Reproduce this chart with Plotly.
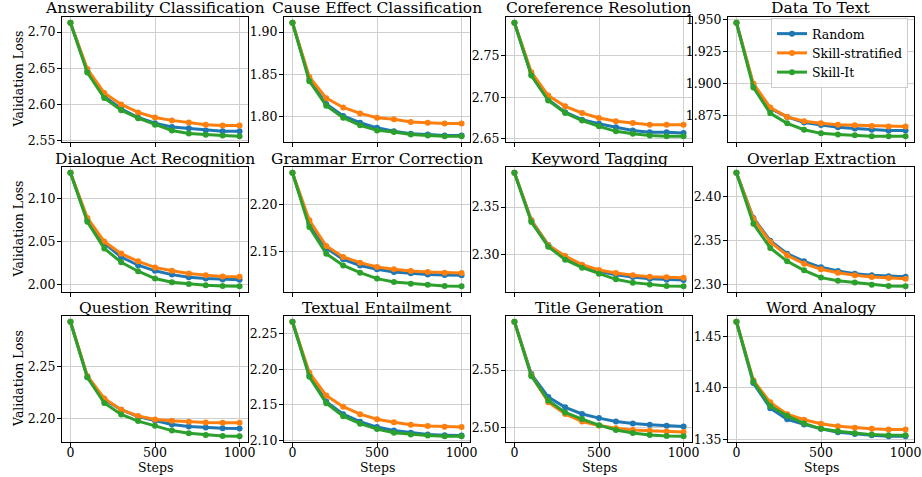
import plotly.graph_objects as go

steps = [0, 100, 200, 300, 400, 500, 600, 700, 800, 900, 1000]
series_names = ["Random", "Skill-stratified", "Skill-It"]
series_colors = ["#1f77b4", "#ff7f0e", "#2ca02c"]

tasks = ["Answerability Classification", "Cause Effect Classification", "Coreference Resolution", "Data To Text",
         "Dialogue Act Recognition", "Grammar Error Correction", "Keyword Tagging", "Overlap Extraction",
         "Question Rewriting", "Textual Entailment", "Title Generation", "Word Analogy"]

ans_random = [2.713, 2.646, 2.611, 2.594, 2.582, 2.574, 2.569, 2.567, 2.564, 2.563, 2.563]
ans_strat = [2.713, 2.649, 2.616, 2.600, 2.589, 2.582, 2.578, 2.575, 2.572, 2.571, 2.571]
ans_skillit = [2.713, 2.644, 2.609, 2.592, 2.581, 2.572, 2.564, 2.560, 2.558, 2.557, 2.556]

cause_random = [1.911, 1.844, 1.815, 1.801, 1.793, 1.787, 1.783, 1.780, 1.779, 1.778, 1.778]
cause_strat = [1.911, 1.847, 1.822, 1.811, 1.804, 1.799, 1.797, 1.794, 1.793, 1.792, 1.792]
cause_skillit = [1.911, 1.842, 1.813, 1.799, 1.790, 1.784, 1.782, 1.779, 1.778, 1.777, 1.777]

coref_random = [2.7895, 2.727, 2.697, 2.682, 2.673, 2.668, 2.664, 2.660, 2.658, 2.658, 2.657]
coref_strat = [2.7895, 2.730, 2.702, 2.689, 2.681, 2.675, 2.671, 2.669, 2.667, 2.667, 2.667]
coref_skillit = [2.7895, 2.726, 2.696, 2.681, 2.672, 2.665, 2.659, 2.656, 2.654, 2.653, 2.653]

d2t_random = [1.9474, 1.8988, 1.8806, 1.874, 1.8697, 1.8677, 1.866, 1.865, 1.864, 1.8635, 1.8635]
d2t_strat = [1.9474, 1.900, 1.8813, 1.874, 1.8706, 1.869, 1.868, 1.8675, 1.867, 1.8665, 1.8665]
d2t_skillit = [1.9474, 1.897, 1.8768, 1.869, 1.864, 1.8612, 1.8604, 1.8597, 1.859, 1.8589, 1.8589]

dar_random = [2.130, 2.075, 2.048, 2.032, 2.0225, 2.016, 2.0116, 2.0085, 2.007, 2.006, 2.0055]
dar_strat = [2.130, 2.0775, 2.050, 2.036, 2.027, 2.020, 2.016, 2.0128, 2.011, 2.0095, 2.009]
dar_skillit = [2.130, 2.073, 2.042, 2.026, 2.0155, 2.007, 2.0027, 2.0008, 1.9992, 1.9985, 1.998]

gec_random = [2.2337, 2.1794, 2.1535, 2.1415, 2.135, 2.1309, 2.128, 2.1266, 2.1255, 2.1248, 2.1245]
gec_strat = [2.2337, 2.183, 2.1557, 2.144, 2.138, 2.1333, 2.131, 2.129, 2.128, 2.1273, 2.127]
gec_skillit = [2.2337, 2.1759, 2.1475, 2.135, 2.1273, 2.121, 2.1174, 2.1156, 2.1145, 2.1131, 2.1128]

kw_random = [2.3863, 2.336, 2.310, 2.297, 2.288, 2.282, 2.2785, 2.276, 2.2743, 2.2732, 2.2729]
kw_strat = [2.3863, 2.3359, 2.3095, 2.2982, 2.2891, 2.2835, 2.2803, 2.2778, 2.2764, 2.2757, 2.2753]
kw_skillit = [2.3863, 2.3342, 2.3081, 2.2944, 2.2859, 2.2796, 2.2736, 2.2701, 2.268, 2.2665, 2.2662]

ovl_random = [2.4273, 2.3758, 2.350, 2.3352, 2.3265, 2.3197, 2.3155, 2.3125, 2.3106, 2.3095, 2.3091]
ovl_strat = [2.4273, 2.375, 2.3485, 2.3333, 2.3239, 2.3174, 2.3136, 2.3106, 2.3087, 2.3076, 2.3068]
ovl_skillit = [2.4273, 2.3693, 2.3417, 2.3265, 2.3163, 2.308, 2.3045, 2.3023, 2.300, 2.2985, 2.2981]

qr_random = [2.2932, 2.2396, 2.2182, 2.2084, 2.2019, 2.1981, 2.1942, 2.1922, 2.1912, 2.1906, 2.1903]
qr_strat = [2.2932, 2.2409, 2.2192, 2.2084, 2.2023, 2.199, 2.1977, 2.1968, 2.1961, 2.1958, 2.1958]
qr_skillit = [2.2932, 2.2396, 2.2149, 2.2039, 2.1974, 2.1929, 2.1883, 2.1857, 2.1841, 2.1831, 2.1828]

te_random = [2.2673, 2.1915, 2.1546, 2.1369, 2.1263, 2.1187, 2.1139, 2.1105, 2.1081, 2.1072, 2.1067]
te_strat = [2.2673, 2.1953, 2.1632, 2.1474, 2.1369, 2.1297, 2.1254, 2.122, 2.1201, 2.1192, 2.1187]
te_skillit = [2.2673, 2.1896, 2.1522, 2.134, 2.1235, 2.1158, 2.1105, 2.1081, 2.1067, 2.1057, 2.1057]

tg_random = [2.5921, 2.5465, 2.5265, 2.5176, 2.5118, 2.5082, 2.5053, 2.5035, 2.5024, 2.5015, 2.5009]
tg_strat = [2.5921, 2.5456, 2.5221, 2.5118, 2.5053, 2.5018, 2.4994, 2.4979, 2.4971, 2.4965, 2.4962]
tg_skillit = [2.5921, 2.5447, 2.5235, 2.5132, 2.5074, 2.5021, 2.4979, 2.4953, 2.4935, 2.4926, 2.4924]

wa_random = [1.4641, 1.4048, 1.3805, 1.3697, 1.3648, 1.3605, 1.3572, 1.3556, 1.3543, 1.3533, 1.3533]
wa_strat = [1.4641, 1.4074, 1.3861, 1.3746, 1.3693, 1.3654, 1.3631, 1.3615, 1.3605, 1.3598, 1.3598]
wa_skillit = [1.4641, 1.4061, 1.3825, 1.373, 1.3657, 1.3605, 1.3582, 1.3562, 1.3549, 1.3543, 1.3543]

task_series = [
    (ans_random, ans_strat, ans_skillit),
    (cause_random, cause_strat, cause_skillit),
    (coref_random, coref_strat, coref_skillit),
    (d2t_random, d2t_strat, d2t_skillit),
    (dar_random, dar_strat, dar_skillit),
    (gec_random, gec_strat, gec_skillit),
    (kw_random, kw_strat, kw_skillit),
    (ovl_random, ovl_strat, ovl_skillit),
    (qr_random, qr_strat, qr_skillit),
    (te_random, te_strat, te_skillit),
    (tg_random, tg_strat, tg_skillit),
    (wa_random, wa_strat, wa_skillit),
]
y_dticks = [0.05, 0.05, 0.05, 0.025, 0.05, 0.05, 0.05, 0.05, 0.05, 0.05, 0.05, 0.05]
y_formats = [".2f", ".2f", ".2f", ".3f", ".2f", ".2f", ".2f", ".2f", ".2f", ".2f", ".2f", ".2f"]

W, H = 922, 477
cols_px = [(62, 248), (284, 470), (506, 692), (728, 914)]
rows_px = [(17, 142), (167, 292), (316, 442)]
FONT = "DejaVu Serif"
GRID = "#cfcfcf"

fig = go.Figure()
layout = {}
annotations = []

for k, task in enumerate(tasks):
    r, c = divmod(k, 4)
    sfx = "" if k == 0 else str(k + 1)
    xname, yname = "x" + sfx, "y" + sfx
    for name, color, vals in zip(series_names, series_colors, task_series[k]):
        fig.add_trace(go.Scatter(
            x=steps, y=vals, name=name, mode="lines+markers",
            line=dict(color=color, width=3), marker=dict(color=color, size=6),
            xaxis=xname, yaxis=yname, showlegend=(k == 3),
        ))
    allv = [v for s in task_series[k] for v in s]
    lo, hi = min(allv), max(allv)
    pad = 0.05 * (hi - lo)
    x0, x1 = cols_px[c]
    y0, y1 = rows_px[r]
    common = dict(showline=True, linecolor="black", linewidth=1, mirror=True,
                  ticks="outside", ticklen=4, tickwidth=1, tickcolor="black",
                  showgrid=True, gridcolor=GRID, gridwidth=1, zeroline=False,
                  automargin=False,
                  tickfont=dict(family=FONT, size=12.5, color="black"))
    layout["xaxis" + sfx] = dict(
        domain=[x0 / W, x1 / W], anchor=yname, range=[-50, 1050],
        tickvals=[0, 500, 1000], ticktext=["0", "500", "1000"],
        showticklabels=(r == 2), ticklabelstandoff=-5, **common)
    layout["yaxis" + sfx] = dict(
        domain=[1 - y1 / H, 1 - y0 / H], anchor=xname, range=[lo - pad, hi + pad],
        tick0=0, dtick=y_dticks[k], tickformat=y_formats[k], ticklabelstandoff=-1, **common)
    annotations.append(dict(
        text=task, x=(x0 + x1) / 2 / W, y=1 - y0 / H, xref="paper", yref="paper",
        xanchor="center", yanchor="bottom", showarrow=False, yshift=-2.5,
        font=dict(family=FONT, size=15.5, color="black")))
    if c == 0:
        annotations.append(dict(
            text="Validation Loss", x=18 / W, y=1 - (y0 + y1) / 2 / H, xref="paper", yref="paper",
            xanchor="center", yanchor="middle", textangle=-90, showarrow=False,
            font=dict(family=FONT, size=12.5, color="black")))
    if r == 2:
        annotations.append(dict(
            text="Steps", x=(x0 + x1) / 2 / W, y=1 - 467 / H, xref="paper", yref="paper",
            xanchor="center", yanchor="middle", showarrow=False,
            font=dict(family=FONT, size=12.5, color="black")))

fig.update_layout(
    width=W, height=H, margin=dict(l=0, r=0, t=0, b=0, autoexpand=False),
    paper_bgcolor="white", plot_bgcolor="white",
    annotations=annotations,
    legend=dict(x=908 / W, y=1 - 18 / H, xanchor="right", yanchor="top",
                bgcolor="rgba(255,255,255,0.85)", bordercolor="#cccccc", borderwidth=1,
                font=dict(family=FONT, size=12.5, color="black")),
    **layout,
)

page_fix = ("var s=document.createElement('style');"
            "s.textContent='html,body{margin:0;padding:0;overflow:hidden;width:922px;height:477px;}';"
            "document.head.appendChild(s);")
fig.write_html("out.html", config={"displayModeBar": False}, post_script=page_fix)
